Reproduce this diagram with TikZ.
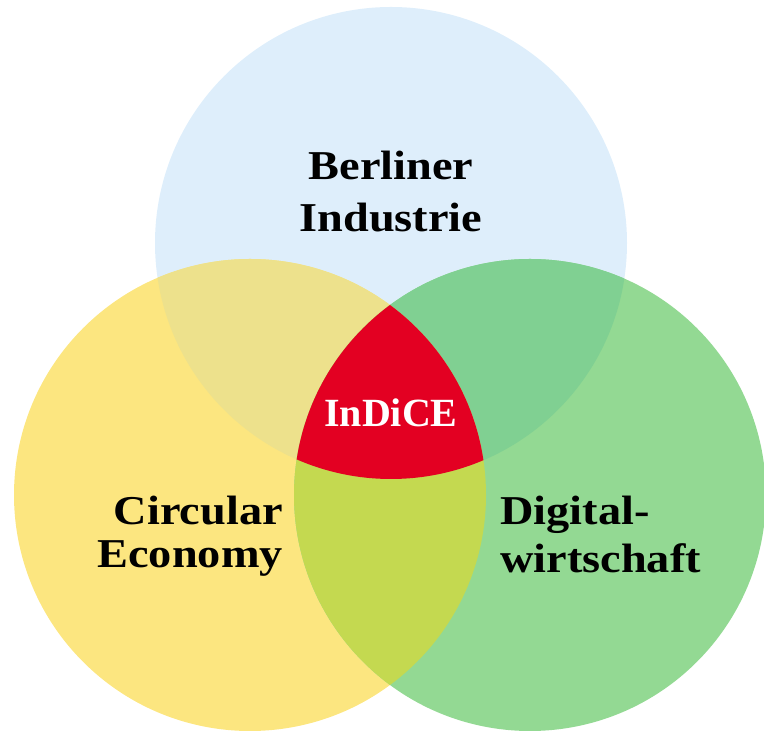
\documentclass[tikz,border=0pt]{standalone}
\usepackage{fontspec}
\setmainfont{Liberation Serif}[FakeStretch=1.13]
\newfontfamily\indicefont{Liberation Serif}
\usepackage{tikz}

\definecolor{blueC}{RGB}{222,238,251}
\definecolor{yellowC}{RGB}{252,230,128}
\definecolor{greenC}{RGB}{147,217,147}
\definecolor{blueyellow}{RGB}{237,225,140}
\definecolor{bluegreen}{RGB}{128,208,146}
\definecolor{yellowgreen}{RGB}{196,217,80}
\definecolor{indiceRed}{RGB}{227,0,34}

\tikzset{
  venntext/.style={font=\fontsize{41}{52}\selectfont\bfseries, inner sep=0pt}
}

\begin{document}
\begin{tikzpicture}[x=1pt,y=1pt]
\useasboundingbox (0,0) rectangle (764,731);
\coordinate (top) at (391,488);
\coordinate (left) at (250,236);
\coordinate (right) at (530,236);
\def\r{236}
% circles
\fill[blueC] (top) circle (\r);
\fill[yellowC] (left) circle (\r);
\fill[greenC] (right) circle (\r);
% overlaps
\begin{scope}
\clip (top) circle (\r);
\fill[blueyellow] (left) circle (\r);
\fill[bluegreen] (right) circle (\r);
\end{scope}
\begin{scope}
\clip (left) circle (\r);
\fill[yellowgreen] (right) circle (\r);
\clip (right) circle (\r);
\fill[indiceRed] (top) circle (\r);
\end{scope}
% labels
\node[venntext, anchor=base] (berlin) at (391,551) {Berliner};
\node[venntext, anchor=base] (industrie) at (391,499) {Industrie};
\node[venntext, anchor=base east] (circular) at (283,206) {Circular};
\node[venntext, anchor=base east] (economy) at (283,163) {Economy};
\node[venntext, anchor=base west] (digital) at (500,206) {Digital-};
\node[venntext, anchor=base west] (wirtschaft) at (500,158) {wirtschaft};
\node[venntext, font=\fontsize{40}{48}\indicefont\bfseries, anchor=base, text=white] (indice) at (391,304) {InDiCE};
\end{tikzpicture}
\end{document}
